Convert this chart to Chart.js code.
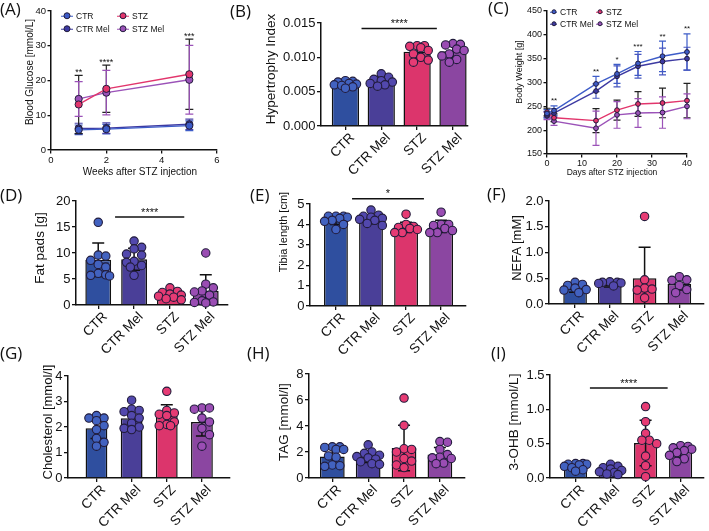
<!DOCTYPE html>
<html>
<head>
<meta charset="utf-8">
<title>STZ / melatonin panels</title>
<script src="https://cdn.jsdelivr.net/npm/chart.js@4.4.1/dist/chart.umd.min.js"></script>
<style>
  html, body { margin: 0; padding: 0; background: #fff; }
  #fig { position: relative; width: 709px; height: 531px; overflow: hidden; font-family: "Liberation Sans", Arial, sans-serif; color: #111; }
  #fig canvas { position: absolute; }
  .letter { position: absolute; font-family: "Open Sans", sans-serif; font-size: 17px; line-height: 1; white-space: nowrap; }
  .ytitle, .xtitle { position: absolute; white-space: nowrap; line-height: 1; }
  .ytitle { transform: translate(-50%, -50%) rotate(-90deg); }
  .xtitle { transform: translate(-50%, -50%); }
  .leg { position: absolute; white-space: nowrap; line-height: 1; transform: translateY(-50%); display: flex; align-items: center; }
  .mk { position: relative; display: inline-block; }
  .mk .ln { position: absolute; left: 0; right: 0; top: 50%; height: 1.4px; margin-top: -0.7px; }
  .mk .dt { position: absolute; left: 50%; top: 50%; transform: translate(-50%, -50%); border-radius: 50%; border: 1px solid #221c3c; box-sizing: border-box; }
</style>
</head>
<body>
<div id="fig"></div>
<script>
// group names used on every bar panel
const groups = ["CTR", "CTR Mel", "STZ", "STZ Mel"];

// (A) blood glucose
const weeks = [1, 2, 5];
const glucoseTicksX = [0, 2, 4, 6];
const glucoseLabelsX = ["0", "2", "4", "6"];
const glucoseTicksY = [0, 10, 20, 30, 40];
const glucoseLabelsY = ["0", "10", "20", "30", "40"];
const glucoseCTR = [5.8, 6.0, 7.0];
const glucoseCTRMel = [6.2, 6.3, 7.4];
const glucoseSTZ = [13.1, 17.6, 21.8];
const glucoseSTZMel = [14.7, 16.5, 20.2];
const glucoseSdCTR = [1.4, 1.4, 1.4];
const glucoseSdCTRMel = [1.5, 1.5, 1.5];
const glucoseSdSTZ = [8.4, 6.8, 10.1];
const glucoseSdSTZMel = [5.0, 6.4, 9.9];
const glucoseStars = ["**", "****", "***"];

// (B) hypertrophy index
const hyperTicks = [0, 0.005, 0.010, 0.015];
const hyperLabels = ["0.000", "0.005", "0.010", "0.015"];
const hyperMean = [0.0061, 0.0066, 0.0108, 0.0109];
const hyperSd = [0.0004, 0.0006, 0.0009, 0.0009];
const hyperCTR = [0.0066, 0.0065, 0.0064, 0.0062, 0.0061, 0.0060, 0.0059, 0.0057, 0.0055];
const hyperCTRMel = [0.0076, 0.0071, 0.0068, 0.0066, 0.0064, 0.0062, 0.0060, 0.0058];
const hyperSTZ = [0.0117, 0.0117, 0.0116, 0.0114, 0.0110, 0.0105, 0.0100, 0.0096, 0.0093];
const hyperSTZMel = [0.0120, 0.0119, 0.0118, 0.0112, 0.0110, 0.0105, 0.0102, 0.0097, 0.0093];

// (C) body weight
const days = [0, 2, 14, 20, 26, 33, 40];
const weightTicksX = [0, 10, 20, 30, 40];
const weightLabelsX = ["0", "10", "20", "30", "40"];
const weightTicksY = [150, 200, 250, 300, 350, 400, 450];
const weightLabelsY = ["150", "200", "250", "300", "350", "400", "450"];
const weightCTR = [235, 241, 297, 318, 340, 355, 364];
const weightCTRMel = [232, 236, 282, 313, 334, 344, 350];
const weightSTZ = [238, 226, 220, 242, 255, 257, 262];
const weightSTZMel = [230, 219, 204, 232, 236, 237, 250];
const weightSdCTR = [8, 10, 16, 20, 25, 32, 38];
const weightSdCTRMel = [7, 9, 15, 22, 25, 28, 24];
const weightSdSTZ = [8, 8, 25, 21, 26, 31, 36];
const weightSdSTZMel = [8, 9, 36, 28, 30, 33, 26];
const weightStars = ["", "**", "**", "*", "***", "**", "**"];

// (D) fat pads
const fatTicks = [0, 5, 10, 15, 20];
const fatLabels = ["0", "5", "10", "15", "20"];
const fatMean = [8.7, 8.8, 1.9, 2.7];
const fatSd = [3.2, 2.1, 0.8, 3.1];
const fatCTR = [15.9, 9.6, 9.4, 8.6, 7.8, 7.3, 6.1, 5.8, 5.7, 5.6];
const fatCTRMel = [12.3, 11.1, 10.8, 9.8, 9.6, 8.4, 8.2, 7.6, 7.3, 5.7];
const fatSTZ = [3.3, 2.6, 2.4, 2.1, 1.9, 1.7, 1.5, 1.2, 1.0];
const fatSTZMel = [10.0, 4.0, 3.3, 2.7, 2.5, 1.9, 0.8, 0.6, 0.5, 0.4];

// (E) tibia length
const tibiaTicks = [0, 1, 2, 3, 4, 5];
const tibiaLabels = ["0", "1", "2", "3", "4", "5"];
const tibiaMean = [4.2, 4.25, 3.85, 3.9];
const tibiaSd = [0.2, 0.22, 0.25, 0.3];
const tibiaCTR = [4.4, 4.4, 4.4, 4.35, 4.3, 4.2, 4.15, 4.0, 3.75];
const tibiaCTRMel = [4.7, 4.45, 4.4, 4.35, 4.3, 4.25, 4.2, 4.05, 3.95];
const tibiaSTZ = [4.5, 4.0, 3.9, 3.85, 3.8, 3.75, 3.6, 3.6];
const tibiaSTZMel = [4.6, 4.0, 4.0, 3.95, 3.8, 3.7, 3.6, 3.6];

// (F) NEFA
const nefaTicks = [0, 0.5, 1.0, 1.5, 2.0];
const nefaLabels = ["0.0", "0.5", "1.0", "1.5", "2.0"];
const nefaMean = [0.30, 0.37, 0.50, 0.39];
const nefaSd = [0.07, 0.04, 0.60, 0.12];
const nefaCTR = [0.42, 0.38, 0.36, 0.31, 0.28, 0.27, 0.22];
const nefaCTRMel = [0.43, 0.42, 0.42, 0.41, 0.40, 0.35];
const nefaSTZ = [1.70, 0.47, 0.31, 0.29, 0.27, 0.12];
const nefaSTZMel = [0.53, 0.47, 0.46, 0.36, 0.28, 0.22];

// (G) cholesterol
const cholTicks = [0, 1, 2, 3, 4];
const cholLabels = ["0", "1", "2", "3", "4"];
const cholMean = [1.95, 2.34, 2.45, 2.2];
const cholSd = [0.4, 0.38, 0.42, 0.55];
const cholCTR = [2.45, 2.35, 2.35, 2.25, 2.05, 1.9, 1.55, 1.4, 1.25];
const cholCTRMel = [3.05, 2.7, 2.65, 2.6, 2.45, 2.35, 2.15, 2.0, 1.95, 1.9];
const cholSTZ = [3.4, 2.65, 2.55, 2.5, 2.45, 2.2, 2.1, 2.05, 2.05];
const cholSTZMel = [2.75, 2.75, 2.7, 2.35, 2.2, 1.95, 1.7, 1.25];

// (H) TAG
const tagTicks = [0, 2, 4, 6, 8];
const tagLabels = ["0", "2", "4", "6", "8"];
const tagMean = [1.66, 1.65, 2.3, 1.8];
const tagSd = [0.6, 0.45, 1.75, 0.55];
const tagCTR = [2.4, 2.4, 2.35, 2.2, 2.2, 1.7, 1.6, 1.0, 0.95, 0.9];
const tagCTRMel = [2.55, 2.0, 1.9, 1.75, 1.65, 1.55, 1.45, 1.25, 1.1, 1.05];
const tagSTZ = [6.15, 4.05, 2.25, 2.2, 2.0, 1.5, 1.3, 1.0, 0.8];
const tagSTZMel = [2.8, 2.75, 2.2, 1.8, 1.6, 1.55, 1.5, 1.15, 1.1];

// (I) 3-OHB
const ohbTicks = [0, 0.5, 1.0, 1.5];
const ohbLabels = ["0.0", "0.5", "1.0", "1.5"];
const ohbMean = [0.17, 0.11, 0.51, 0.38];
const ohbSd = [0.04, 0.05, 0.33, 0.08];
const ohbCTR = [0.21, 0.21, 0.20, 0.20, 0.19, 0.17, 0.15, 0.12, 0.10];
const ohbCTRMel = [0.20, 0.17, 0.15, 0.13, 0.11, 0.09, 0.08, 0.06, 0.05];
const ohbSTZ = [1.04, 0.82, 0.65, 0.55, 0.55, 0.50, 0.32, 0.18, 0.02];
const ohbSTZMel = [0.47, 0.46, 0.44, 0.42, 0.40, 0.37, 0.33, 0.28, 0.24];

// colours
const barColors = ["#2f4f9f", "#4a3f98", "#dc356c", "#8b46a1"];
const dotColors = ["#4262c0", "#5248ad", "#e63b74", "#9a4db3"];
const lineColors = ["#3d5cc8", "#3d3aa2", "#e2356c", "#9b52b8"];
const INK = "#111";
const DOT_EDGE = "#221c3c";
const FONT = "'Liberation Sans', Arial, sans-serif";

Chart.defaults.font.family = FONT;
Chart.defaults.color = INK;

const fig = document.getElementById("fig");

// panel boxes: canvas rect and plot area [x0, x1, y0, y1] in page pixels
const P = {
  A: { left: 0, top: 0, w: 233, h: 180, plot: [51, 217, 11, 150] },
  B: { left: 235, top: 0, w: 238, h: 185, plot: [321, 471, 23, 126] },
  C: { left: 470, top: 0, w: 239, h: 180, plot: [547, 687, 11, 154] },
  D: { left: 0, top: 178, w: 235, h: 185, plot: [76, 228, 201, 305] },
  E: { left: 235, top: 178, w: 237, h: 185, plot: [310, 466, 204, 306] },
  F: { left: 470, top: 178, w: 239, h: 185, plot: [549, 707, 201, 304] },
  G: { left: 0, top: 350, w: 235, h: 181, plot: [68, 230, 376, 478] },
  H: { left: 235, top: 350, w: 237, h: 181, plot: [309, 465, 374, 478] },
  I: { left: 470, top: 350, w: 239, h: 181, plot: [550, 707, 375, 478] }
};

// draws mean +/- SD whiskers with caps
const errorBars = {
  id: "errorBars",
  beforeDatasetsDraw(chart, args, o) {
    if (o.when === "before") draw(chart, o);
  },
  afterDatasetDraw(chart, args, o) {
    if (o.when === "afterBars" && args.index === 0) draw(chart, o);
  }
};
function draw(chart, o) {
  const { ctx } = chart;
  const x = chart.scales.x, y = chart.scales.y;
  ctx.save();
  ctx.lineWidth = o.width;
  o.series.forEach(s => {
    ctx.strokeStyle = s.color;
    s.xs.forEach((xv, i) => {
      const px = x.getPixelForValue(xv);
      const top = y.getPixelForValue(s.means[i] + s.sds[i]);
      const lowV = s.means[i] - s.sds[i];
      const bot = y.getPixelForValue(Math.max(lowV, y.min));
      ctx.beginPath();
      ctx.moveTo(px, top); ctx.lineTo(px, bot);
      ctx.moveTo(px - o.cap, top); ctx.lineTo(px + o.cap, top);
      if (lowV > y.min) { ctx.moveTo(px - o.cap, bot); ctx.lineTo(px + o.cap, bot); }
      ctx.stroke();
    });
  });
  ctx.restore();
}

// significance lines and star labels
const sigPlugin = {
  id: "sig",
  afterDraw(chart, args, o) {
    if (!o.items || !o.items.length) return;
    const { ctx } = chart;
    const x = chart.scales.x, y = chart.scales.y;
    ctx.save();
    ctx.strokeStyle = INK; ctx.fillStyle = INK; ctx.lineWidth = 1.5;
    ctx.font = o.size + "px " + FONT;
    ctx.textAlign = "center"; ctx.textBaseline = "alphabetic";
    o.items.forEach(it => {
      const py = y.getPixelForValue(it.y);
      const x0 = x.getPixelForValue(it.from), x1 = x.getPixelForValue(it.to);
      if (it.line) {
        ctx.beginPath(); ctx.moveTo(x0, py); ctx.lineTo(x1, py); ctx.stroke();
      }
      ctx.fillText(it.text, (x0 + x1) / 2, py + it.dy);
    });
    ctx.restore();
  }
};

function addCanvas(p) {
  const cv = document.createElement("canvas");
  cv.width = p.w; cv.height = p.h;
  cv.style.left = p.left + "px"; cv.style.top = p.top + "px";
  cv.style.width = p.w + "px"; cv.style.height = p.h + "px";
  fig.appendChild(cv);
  return cv;
}

function axes(p, o) {
  const tickGrid = { drawOnChartArea: false, drawTicks: true, tickLength: o.tickLen, color: INK, lineWidth: 1.3, offset: false };
  const border = { display: true, color: INK, width: 1.5 };
  return {
    x: {
      type: "linear", min: o.xMin, max: o.xMax, offset: false,
      afterFit: s => { s.height = p.top + p.h - p.plot[3]; },
      afterBuildTicks: s => { s.ticks = o.xTicks.map(v => ({ value: v })); },
      ticks: { autoSkip: false, minRotation: o.rot, maxRotation: o.rot, padding: o.xPad, labelOffset: o.xShift,
        font: { size: o.xfs }, color: INK, callback: (v, i) => o.xLabels[i] },
      grid: tickGrid, border
    },
    y: {
      type: "linear", min: o.yTicks[0], max: o.yTicks[o.yTicks.length - 1],
      afterFit: s => { s.width = p.plot[0] - p.left; },
      afterBuildTicks: s => { s.ticks = o.yTicks.map(v => ({ value: v })); },
      ticks: { padding: 1.5, font: { size: o.fs }, color: INK, callback: (v, i) => o.yLabels[i] },
      grid: tickGrid, border
    }
  };
}

function baseOptions(p) {
  return {
    responsive: false, animation: false, devicePixelRatio: 1,
    layout: { padding: { left: 0, top: p.plot[2] - p.top, right: p.left + p.w - p.plot[1], bottom: 0 } },
    plugins: { legend: { display: false }, tooltip: { enabled: false } }
  };
}

// spread dots sideways (bee-swarm style) so they don't pile on top of each other
function swarmOffsets(values, pxPerUnit, halfWidth, r) {
  const d = r * 1.8;
  const placed = [];
  const out = new Array(values.length).fill(0);
  const order = values.map((_, i) => i).sort((a, b) => values[b] - values[a]);
  for (const i of order) {
    const yv = values[i] * pxPerUnit;
    let pick = 0, best = -1;
    for (let k = 0; k < 30; k++) {
      const o = (k % 2 ? 1 : -1) * Math.ceil(k / 2) * r * 0.9;
      if (Math.abs(o) > halfWidth) break;
      let gap = Infinity;
      placed.forEach(q => { gap = Math.min(gap, Math.hypot(o - q.o, yv - q.y)); });
      if (gap >= d) { pick = o; break; }
      if (gap > best) { best = gap; pick = o; }
    }
    placed.push({ o: pick, y: yv });
    out[i] = pick;
  }
  return out;
}

function barPanel(p, o) {
  const cv = addCanvas(p);
  const yMin = o.yTicks[0], yMax = o.yTicks[o.yTicks.length - 1];
  const pxY = (p.plot[3] - p.plot[2]) / (yMax - yMin);
  const pxX = (p.plot[1] - p.plot[0]) / (o.xMax - o.xMin);
  const r = 4.2;
  const datasets = [{
    type: "bar", data: o.means.map((m, i) => ({ x: i, y: m })),
    backgroundColor: barColors, borderColor: INK, borderWidth: 1.5,
    barPercentage: o.barPct, categoryPercentage: 1, order: 2
  }];
  o.points.forEach((vals, g) => {
    const offs = swarmOffsets(vals, pxY, pxX * o.barPct / 2, r);
    datasets.push({
      type: "scatter", data: vals.map((v, k) => ({ x: g + offs[k] / pxX, y: v })),
      pointRadius: r, pointBackgroundColor: dotColors[g], pointBorderColor: DOT_EDGE,
      pointBorderWidth: 1.1, order: 1, clip: false
    });
  });
  const opts = baseOptions(p);
  opts.plugins.errorBars = {
    when: "afterBars", width: 1.5, cap: 6,
    series: [{ xs: [0, 1, 2, 3], means: o.means, sds: o.sds, color: INK }]
  };
  opts.plugins.sig = { size: 11, items: o.sig ? [Object.assign({ line: true, dy: -1.5 }, o.sig)] : [] };
  opts.scales = axes(p, {
    xMin: o.xMin, xMax: o.xMax, xTicks: [0, 1, 2, 3], xLabels: groups, rot: 45, xPad: 0, xShift: 7,
    yTicks: o.yTicks, yLabels: o.yLabels, fs: 13, xfs: 13.5, tickLen: 4
  });
  new Chart(cv, { type: "bar", data: { datasets }, options: opts, plugins: [errorBars, sigPlugin] });
}

function linePanel(p, o) {
  const cv = addCanvas(p);
  const datasets = o.series.map((m, k) => ({
    type: "line", data: o.xs.map((x, i) => ({ x, y: m[i] })),
    borderColor: lineColors[k], borderWidth: 1.4, tension: 0,
    pointRadius: o.r, pointBackgroundColor: lineColors[k], pointBorderColor: DOT_EDGE,
    pointBorderWidth: 1, clip: false
  }));
  const items = [];
  o.xs.forEach((x, i) => {
    if (!o.stars[i]) return;
    const top = Math.max(...o.series.map((m, k) => m[i] + o.sds[k][i]));
    items.push({ from: x, to: x, y: top, text: o.stars[i], line: false, dy: o.starDy });
  });
  const opts = baseOptions(p);
  opts.plugins.errorBars = {
    when: "before", width: 1.2, cap: o.cap,
    series: o.series.map((m, k) => ({ xs: o.xs, means: m, sds: o.sds[k], color: o.errColors[k] }))
  };
  opts.plugins.sig = { size: o.starSize, items };
  opts.scales = axes(p, {
    xMin: o.xTicks[0], xMax: o.xTicks[o.xTicks.length - 1], xTicks: o.xTicks, xLabels: o.xLabels, rot: 0, xPad: 1, xShift: 0,
    yTicks: o.yTicks, yLabels: o.yLabels, fs: o.fs, xfs: o.fs, tickLen: 3.5
  });
  new Chart(cv, { type: "line", data: { datasets }, options: opts, plugins: [errorBars, sigPlugin] });
}

// ---- text helpers ----
function addText(cls, text, x, y, size, extra) {
  const el = document.createElement("div");
  el.className = cls;
  el.textContent = text;
  el.style.left = x + "px"; el.style.top = y + "px";
  if (size) el.style.fontSize = size + "px";
  if (extra) Object.assign(el.style, extra);
  fig.appendChild(el);
  return el;
}
function legendItem(x, y, label, k, size, mkW, dot) {
  const el = document.createElement("div");
  el.className = "leg";
  el.style.left = x + "px"; el.style.top = y + "px"; el.style.fontSize = size + "px";
  const mk = document.createElement("span");
  mk.className = "mk";
  mk.style.width = mkW + "px"; mk.style.height = dot + "px"; mk.style.marginRight = "3px";
  mk.innerHTML = '<i class="ln" style="background:' + lineColors[k] + '"></i><i class="dt" style="width:' + dot + 'px;height:' + dot + 'px;background:' + lineColors[k] + '"></i>';
  el.appendChild(mk);
  el.appendChild(document.createTextNode(label));
  fig.appendChild(el);
}

// ---- panels ----
linePanel(P.A, {
  xs: weeks, series: [glucoseCTR, glucoseCTRMel, glucoseSTZ, glucoseSTZMel],
  sds: [glucoseSdCTR, glucoseSdCTRMel, glucoseSdSTZ, glucoseSdSTZMel],
  errColors: ["#3d5cc8", "#4a42a8", "#222", "#9b52b8"],
  stars: glucoseStars, starSize: 9, starDy: 0,
  xTicks: glucoseTicksX, xLabels: glucoseLabelsX, yTicks: glucoseTicksY, yLabels: glucoseLabelsY,
  fs: 9.5, r: 3.6, cap: 4
});
barPanel(P.B, { means: hyperMean, sds: hyperSd, points: [hyperCTR, hyperCTRMel, hyperSTZ, hyperSTZMel],
  yTicks: hyperTicks, yLabels: hyperLabels, xMin: -0.68, xMax: 3.41, barPct: 0.76,
  sig: { from: 0.45, to: 2.55, y: 0.0142, text: "****" } });
linePanel(P.C, {
  xs: days, series: [weightCTR, weightCTRMel, weightSTZ, weightSTZMel],
  sds: [weightSdCTR, weightSdCTRMel, weightSdSTZ, weightSdSTZMel],
  errColors: ["#3d5cc8", "#4757c0", "#222", "#9b52b8"],
  stars: weightStars, starSize: 8, starDy: -2.5,
  xTicks: weightTicksX, xLabels: weightLabelsX, yTicks: weightTicksY, yLabels: weightLabelsY,
  fs: 9, r: 2.4, cap: 3.5
});
barPanel(P.D, { means: fatMean, sds: fatSd, points: [fatCTR, fatCTRMel, fatSTZ, fatSTZMel],
  yTicks: fatTicks, yLabels: fatLabels, xMin: -0.62, xMax: 3.62, barPct: 0.72,
  sig: { from: 0.47, to: 2.4, y: 16.9, text: "****" } });
barPanel(P.E, { means: tibiaMean, sds: tibiaSd, points: [tibiaCTR, tibiaCTRMel, tibiaSTZ, tibiaSTZMel],
  yTicks: tibiaTicks, yLabels: tibiaLabels, xMin: -0.74, xMax: 3.71, barPct: 0.68,
  sig: { from: 0.46, to: 2.51, y: 5.26, text: "*" } });
barPanel(P.F, { means: nefaMean, sds: nefaSd, points: [nefaCTR, nefaCTRMel, nefaSTZ, nefaSTZMel],
  yTicks: nefaTicks, yLabels: nefaLabels, xMin: -0.75, xMax: 3.7, barPct: 0.68 });
barPanel(P.G, { means: cholMean, sds: cholSd, points: [cholCTR, cholCTRMel, cholSTZ, cholSTZMel],
  yTicks: cholTicks, yLabels: cholLabels, xMin: -0.81, xMax: 3.79, barPct: 0.62 });
barPanel(P.H, { means: tagMean, sds: tagSd, points: [tagCTR, tagCTRMel, tagSTZ, tagSTZMel],
  yTicks: tagTicks, yLabels: tagLabels, xMin: -0.65, xMax: 3.7, barPct: 0.69 });
barPanel(P.I, { means: ohbMean, sds: ohbSd, points: [ohbCTR, ohbCTRMel, ohbSTZ, ohbSTZMel],
  yTicks: ohbTicks, yLabels: ohbLabels, xMin: -0.73, xMax: 3.66, barPct: 0.66,
  sig: { from: 0.41, to: 2.63, y: 1.31, text: "****" } });

// panel letters
addText("letter", "(A)", 0, 0);
addText("letter", "(B)", 230, 2);
addText("letter", "(C)", 488, -1);
addText("letter", "(D)", 0, 186);
addText("letter", "(E)", 250, 186);
addText("letter", "(F)", 487, 185);
addText("letter", "(G)", 0, 344);
addText("letter", "(H)", 247, 344);
addText("letter", "(I)", 491, 344);

// axis titles
addText("ytitle", "Blood Glucose [mmol/L]", 30, 72, 10);
addText("xtitle", "Weeks after STZ injection", 140, 172, 10);
addText("ytitle", "Hypertrophy Index", 271, 69, 13.5);
addText("ytitle", "Body Weight [g]", 519, 72, 9);
addText("xtitle", "Days after STZ injection", 612, 172, 8.5);
addText("ytitle", "Fat pads [g]", 40, 248, 13.5);
addText("ytitle", "Tibia length [cm]", 283, 232, 11);
addText("ytitle", "NEFA [mM]", 516, 248, 13);
addText("ytitle", "Cholesterol [mmol/l]", 47, 422, 13);
addText("ytitle", "TAG [mmol/l]", 284, 422, 13.5);
addText("ytitle", "3-OHB [mmol/L]", 514, 422, 13.5);

// legends for the line panels
legendItem(61, 16, "CTR", 0, 8.5, 12, 7);
legendItem(61, 29, "CTR Mel", 1, 8.5, 12, 7);
legendItem(117, 16, "STZ", 2, 8.5, 12, 7);
legendItem(117, 29, "STZ Mel", 3, 8.5, 12, 7);
legendItem(550, 12, "CTR", 0, 8.5, 7, 5);
legendItem(550, 24, "CTR Mel", 1, 8.5, 7, 5);
legendItem(596, 12, "STZ", 2, 8.5, 7, 5);
legendItem(596, 24, "STZ Mel", 3, 8.5, 7, 5);
</script>
</body>
</html>
